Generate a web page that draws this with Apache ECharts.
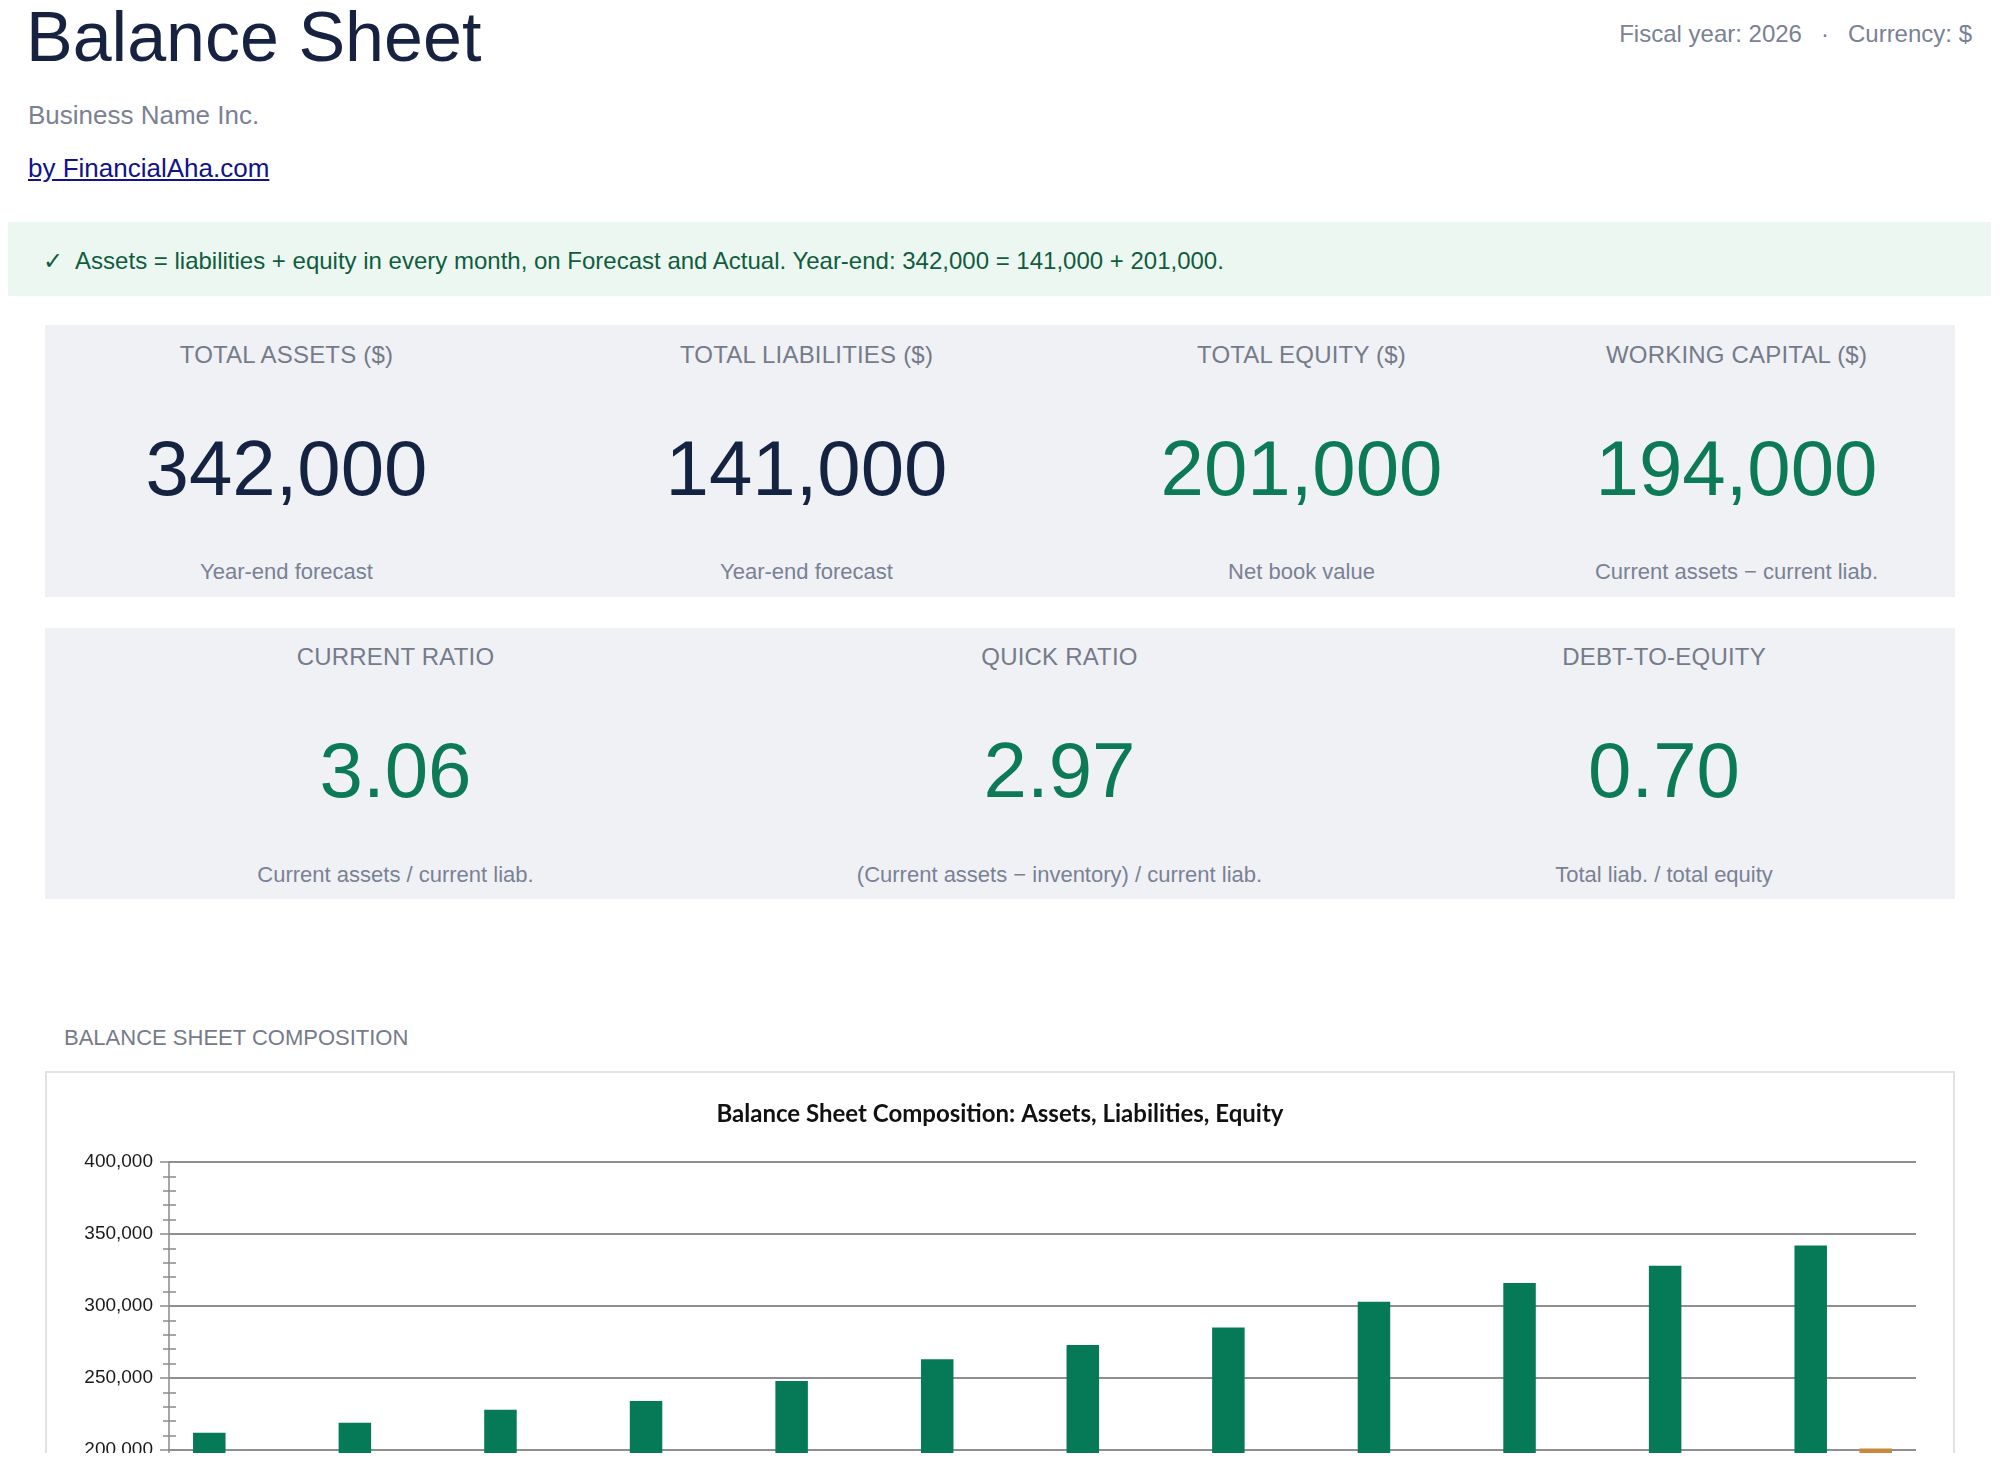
<!DOCTYPE html>
<html>
<head>
<meta charset="utf-8">
<title>Balance Sheet</title>
<script src="https://cdn.jsdelivr.net/npm/echarts@6/dist/echarts.min.js"></script>
<style>
  html, body { margin: 0; padding: 0; background: #fff; }
  body { font-family: "Liberation Sans", Arial, Helvetica, sans-serif; }
  #page { position: relative; width: 2000px; height: 1453px; overflow: hidden; background: #fff; }
  .abs { position: absolute; line-height: 1; white-space: nowrap; }
  #title { left: 26px; top: 2px; font-size: 70px; color: #172240; }
  #biz { left: 28px; top: 102px; font-size: 26px; color: #7a8194; }
  #link { left: 28px; top: 155px; font-size: 26px; color: #12128a; text-decoration: underline; }
  #meta { right: 28px; top: 22px; font-size: 24px; color: #7a8194; }
  #meta .dot { margin: 0 19px; }
  #banner { position: absolute; left: 8px; top: 222px; width: 1983px; height: 74px; background: #edf7f1; }
  #bannerText { left: 35px; top: 27px; font-size: 24px; color: #0f5d3e; }
  #bannerText .chk { font-family: "DejaVu Sans", sans-serif; margin-right: 12px; }
  .row { position: absolute; left: 45px; width: 1910px; background: #eff1f5; display: flex; }
  .cell { position: relative; height: 100%; }
  .cell div { position: absolute; left: 0; right: 0; text-align: center; line-height: 1; white-space: nowrap; }
  .hd { top: 18px; font-size: 24px; color: #757b8a; letter-spacing: 0.2px; }
  .big { top: 104px; font-size: 78px; }
  .sub { top: 236px; font-size: 22px; color: #7a8194; }
  .navy { color: #152342; }
  .green { color: #0b7a55; }
  #sect { left: 64px; top: 1027px; font-size: 22px; color: #757b8a; }
  #frame { position: absolute; left: 45px; top: 1071px; width: 1910px; height: 800px; border: 2px solid #e2e2e2; box-sizing: border-box; background: #fff; }
  #chart { position: absolute; left: 0; top: 0; width: 1906px; height: 796px; }
</style>
</head>
<body>
<div id="page">
  <div class="abs" id="title">Balance Sheet</div>
  <div class="abs" id="biz">Business Name Inc.</div>
  <div class="abs" id="link">by FinancialAha.com</div>
  <div class="abs" id="meta">Fiscal year: 2026<span class="dot">·</span>Currency: $</div>

  <div id="banner">
    <div class="abs" id="bannerText"><span class="chk">✓</span>Assets = liabilities + equity in every month, on Forecast and Actual. Year-end: 342,000 = 141,000 + 201,000.</div>
  </div>

  <div class="row" style="top:325px;height:272px;">
    <div class="cell" style="width:483px;">
      <div class="hd">TOTAL ASSETS ($)</div>
      <div class="big navy">342,000</div>
      <div class="sub">Year-end forecast</div>
    </div>
    <div class="cell" style="width:557px;">
      <div class="hd">TOTAL LIABILITIES ($)</div>
      <div class="big navy">141,000</div>
      <div class="sub">Year-end forecast</div>
    </div>
    <div class="cell" style="width:433px;">
      <div class="hd">TOTAL EQUITY ($)</div>
      <div class="big green">201,000</div>
      <div class="sub">Net book value</div>
    </div>
    <div class="cell" style="width:437px;">
      <div class="hd">WORKING CAPITAL ($)</div>
      <div class="big green">194,000</div>
      <div class="sub">Current assets − current liab.</div>
    </div>
  </div>

  <div class="row" style="top:628px;height:271px;">
    <div class="cell" style="width:701px;">
      <div class="hd" style="top:17px;">CURRENT RATIO</div>
      <div class="big green" style="top:103px;">3.06</div>
      <div class="sub">Current assets / current liab.</div>
    </div>
    <div class="cell" style="width:627px;">
      <div class="hd" style="top:17px;">QUICK RATIO</div>
      <div class="big green" style="top:103px;">2.97</div>
      <div class="sub">(Current assets − inventory) / current liab.</div>
    </div>
    <div class="cell" style="width:582px;">
      <div class="hd" style="top:17px;">DEBT-TO-EQUITY</div>
      <div class="big green" style="top:103px;">0.70</div>
      <div class="sub">Total liab. / total equity</div>
    </div>
  </div>

  <div class="abs" id="sect">BALANCE SHEET COMPOSITION</div>
  <div id="frame"><div id="chart"></div></div>
</div>

<script>
  // monthly forecast, year-end = Dec
  const months = ['Jan', 'Feb', 'Mar', 'Apr', 'May', 'Jun', 'Jul', 'Aug', 'Sep', 'Oct', 'Nov', 'Dec'];
  const totalAssets = [212000, 219000, 228000, 234000, 248000, 263000, 273000, 285000, 303000, 316000, 328000, 342000];
  const totalLiabilities = [112000, 114000, 117000, 118000, 123000, 128000, 129000, 131000, 136000, 137000, 139000, 141000];
  const totalEquity = [100000, 105000, 111000, 116000, 125000, 135000, 144000, 154000, 167000, 179000, 189000, 201000];

  const chart = echarts.init(document.getElementById('chart'), null, { renderer: 'canvas' });

  const axisGray = '#8a8a8a';
  const fmt = v => v.toLocaleString('en-US');

  const option = {
    animation: false,
    title: {
      text: 'Balance Sheet Composition: Assets, Liabilities, Equity',
      left: 'center',
      top: 24,
      textStyle: { fontFamily: 'Lato', fontWeight: 'bold', fontSize: 24, color: '#111' }
    },
    legend: {
      bottom: 20,
      textStyle: { fontFamily: 'Liberation Sans', fontSize: 18, color: '#333' }
    },
    grid: { left: 122, right: 37, top: 89, height: 576 },
    xAxis: {
      type: 'category',
      data: months,
      axisLine: { lineStyle: { color: axisGray, width: 2 } },
      axisTick: { show: false },
      axisLabel: { fontFamily: 'Liberation Sans', fontSize: 19, color: '#1a1a1a' }
    },
    yAxis: [
      {
        type: 'value',
        min: 0,
        max: 400000,
        interval: 50000,
        axisLine: { show: true, lineStyle: { color: axisGray, width: 1.5 } },
        axisTick: { show: true, length: 9, lineStyle: { color: axisGray, width: 1.5 } },
        minorTick: { show: true, splitNumber: 5, length: 6, lineStyle: { color: axisGray, width: 1.5 } },
        splitLine: { lineStyle: { color: '#8f8f8f', width: 2 } },
        axisLabel: { margin: 16, fontFamily: 'Liberation Sans', fontSize: 19, color: '#1a1a1a', formatter: fmt }
      },
      {
        // second copy only for the inner half of the minor ticks
        type: 'value',
        position: 'left',
        min: 0,
        max: 400000,
        interval: 50000,
        axisLine: { show: false },
        axisTick: { show: false, inside: true },
        minorTick: { show: true, splitNumber: 5, length: 7, lineStyle: { color: axisGray, width: 1.5 } },
        splitLine: { show: false },
        axisLabel: { show: false }
      }
    ],
    series: [
      {
        name: 'Total Assets',
        type: 'bar',
        data: totalAssets,
        barWidth: 32.5,
        barGap: '0%',
        itemStyle: { color: '#067a56' }
      },
      {
        name: 'Total Liabilities',
        type: 'bar',
        data: totalLiabilities,
        barWidth: 32.5,
        barGap: '0%',
        itemStyle: { color: '#5b6f8f' }
      },
      {
        name: 'Total Equity',
        type: 'bar',
        data: totalEquity,
        barWidth: 32.5,
        barGap: '0%',
        itemStyle: { color: '#c8893c' }
      }
    ]
  };

  chart.setOption(option);
</script>
</body>
</html>
